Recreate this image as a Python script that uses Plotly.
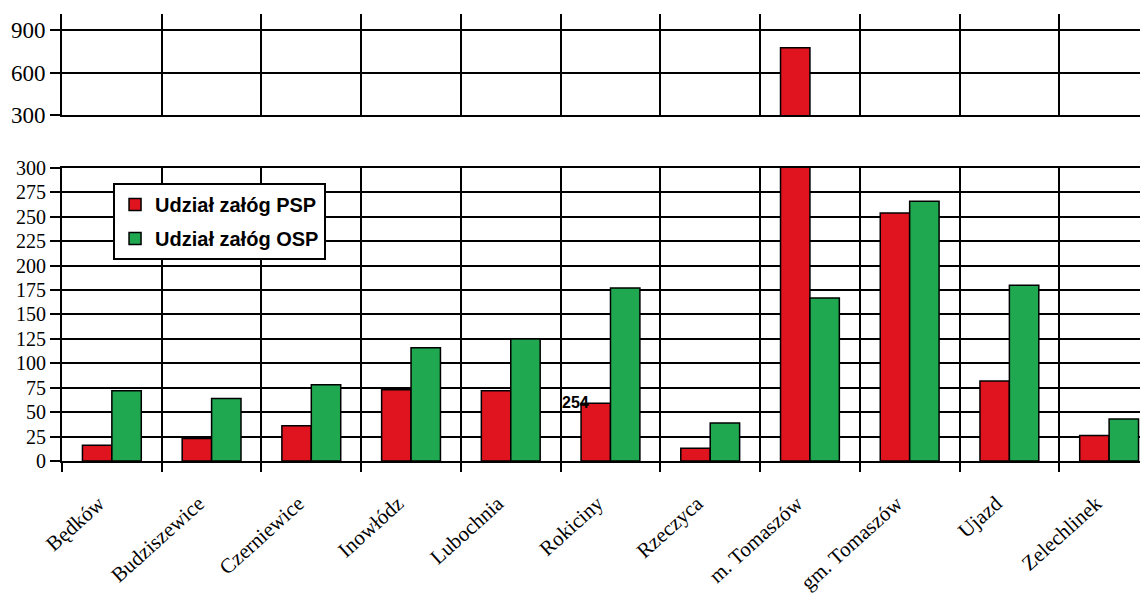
import plotly.graph_objects as go

categories = ["Będków", "Budziszewice", "Czerniewice", "Inowłódz", "Lubochnia",
              "Rokiciny", "Rzeczyca", "m. Tomaszów", "gm. Tomaszów", "Ujazd", "Zelechlinek"]
psp = [16, 23, 36, 73, 72, 59, 13, 775, 254, 82, 26]
osp = [72, 64, 78, 116, 125, 177, 39, 167, 266, 180, 43]
series_names = ["Udział załóg PSP", "Udział załóg OSP"]
low_ticks = [0, 25, 50, 75, 100, 125, 150, 175, 200, 225, 250, 275, 300]
high_ticks = [300, 600, 900]
stray_label = str(psp[8])

RED = "#e0141e"
GREEN = "#1fa84f"

fig = go.Figure()
for name, vals, color in [(series_names[0], psp, RED), (series_names[1], osp, GREEN)]:
    fig.add_trace(go.Bar(x=categories, y=vals, name=name, legendgroup=name,
                         marker=dict(color=color, line=dict(color="black", width=1.5)),
                         xaxis="x", yaxis="y"))
for name, vals, color in [(series_names[0], psp, RED), (series_names[1], osp, GREEN)]:
    fig.add_trace(go.Bar(x=categories, y=vals, name=name, showlegend=False,
                         marker=dict(color=color, line=dict(color="black", width=1.5)),
                         xaxis="x2", yaxis="y2"))

axis_common = dict(showgrid=True, gridcolor="black", gridwidth=2,
                   showline=True, linecolor="black", linewidth=2,
                   tickcolor="black", tickwidth=2, zeroline=False, automargin=False)

fig.update_layout(
    width=1140, height=593,
    margin=dict(l=54, r=0, t=6, b=140),
    plot_bgcolor="white", paper_bgcolor="white",
    barmode="group", bargap=0.41, bargroupgap=0,
    showlegend=True,
    legend=dict(x=0.047, y=0.622, xanchor="left", yanchor="top",
                bgcolor="white", bordercolor="black", borderwidth=2,
                tracegroupgap=5, traceorder="grouped", itemwidth=30,
                font=dict(family="Liberation Sans", size=20, color="black", weight="bold")),
    xaxis=dict(type="category", categoryorder="array", categoryarray=categories,
               range=[-0.5, 10.39], tickson="boundaries", ticks="outside", ticklen=9,
               mirror=True, tickangle=-42, ticklabelstandoff=20, ticklabelshift=-13,
               tickfont=dict(family="Liberation Serif", size=21, color="black"),
               anchor="y", **axis_common),
    yaxis=dict(domain=[0, 0.6555], range=[0, 300], tickvals=low_ticks,
               ticks="outside", ticklen=10,
               tickfont=dict(family="Liberation Serif", size=20, color="black"),
               anchor="x", **axis_common),
    xaxis2=dict(type="category", matches="x", anchor="y2", tickson="boundaries",
                ticks="", showticklabels=False, **axis_common),
    yaxis2=dict(domain=[0.774, 1], range=[300, 1013], tickvals=high_ticks,
                ticks="outside", ticklen=10,
                tickfont=dict(family="Liberation Serif", size=23, color="black"),
                anchor="x2", **axis_common),
    annotations=[dict(x=4.65, y=60, xref="x", yref="y", text=stray_label, showarrow=False,
                      font=dict(family="Liberation Sans", size=16, color="black", weight="bold"))],
)

fig.write_html("out.html")
